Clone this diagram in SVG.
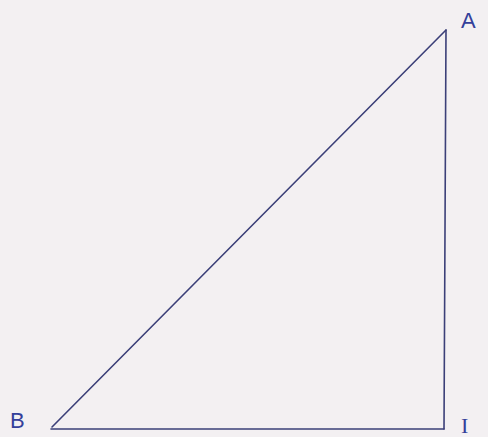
<svg xmlns="http://www.w3.org/2000/svg" width="488" height="437" viewBox="0 0 488 437">
<style>
.edge{stroke:#3b3f78;stroke-width:1.6;fill:none;stroke-linecap:round}
.lbl{font-family:"Liberation Sans",Arial,sans-serif;font-size:22px;fill:#34409a}
.ser{font-family:"Liberation Serif","Times New Roman",serif;font-size:22px;fill:#34409a}
</style>
<rect width="488" height="437" fill="#f3f0f2"/>
<g id="connectors">
<line class="edge" x1="52" y1="427" x2="446" y2="30"/>
<line class="edge" x1="446" y1="30" x2="444" y2="429"/>
<line class="edge" x1="51" y1="429" x2="444" y2="429"/>
</g>
<g id="node-A"><text class="lbl" x="461" y="28">A</text></g>
<g id="node-B"><text class="lbl" x="10" y="428">B</text></g>
<g id="node-I"><text class="ser" x="461" y="433">I</text></g>
</svg>
